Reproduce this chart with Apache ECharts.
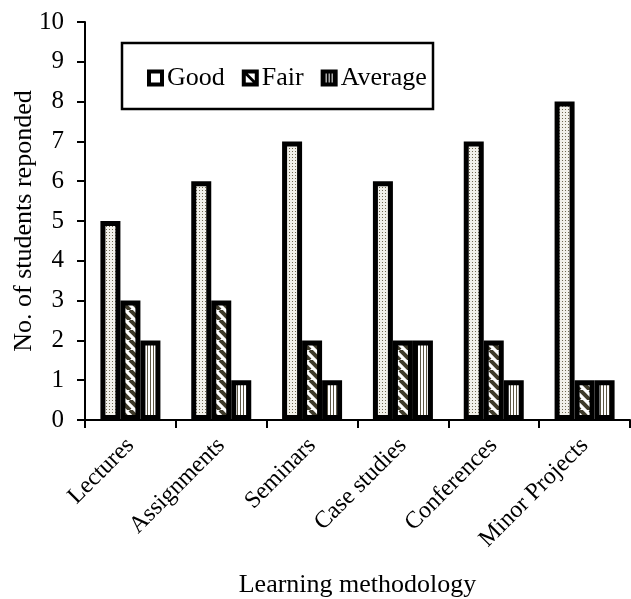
<!DOCTYPE html>
<html>
<head>
<meta charset="utf-8">
<script src="https://cdn.jsdelivr.net/npm/echarts@6/dist/echarts.min.js"></script>
<style>
html,body{margin:0;padding:0;background:#fff;}
#c{width:631px;height:599px;}
</style>
</head>
<body>
<div id="c"></div>
<script>
const categories = ['Lectures','Assignments','Seminars','Case studies','Conferences','Minor Projects'];
const seriesNames = ['Good','Fair','Average'];
const good = [5,6,7,6,7,8];
const fair = [3,3,2,2,2,1];
const average = [2,1,1,2,1,1];
const yTicks = [0,1,2,3,4,5,6,7,8,9,10];

function dotPattern(){
  const c=document.createElement('canvas'); c.width=3; c.height=3;
  const g=c.getContext('2d');
  g.fillStyle='#f1f0ea'; g.fillRect(0,0,3,3);
  g.fillStyle='#6f6952'; g.fillRect(1,1,1,1);
  return c;
}
function diagPattern(){
  const s=10;
  const c=document.createElement('canvas'); c.width=s; c.height=s;
  const g=c.getContext('2d');
  g.fillStyle='#ffffff'; g.fillRect(0,0,s,s);
  g.strokeStyle='#3e3a2a'; g.lineWidth=4;
  for(let k=-1;k<=1;k++){
    g.beginPath(); g.moveTo(k*s,0); g.lineTo(k*s+s,s); g.stroke();
  }
  return c;
}
function vertPattern(){
  const c=document.createElement('canvas'); c.width=3; c.height=3;
  const g=c.getContext('2d');
  g.fillStyle='#ffffff'; g.fillRect(0,0,3,3);
  g.fillStyle='#5c5744'; g.fillRect(0,0,1,3);
  return c;
}
const patterns=[dotPattern(),diagPattern(),vertPattern()];
const dataSets=[good,fair,average];
const legendIcons=[
  'path://M0,0L17,0L17,17L0,17Z M4,4L4,13L13,13L13,4Z',
  'path://M0,0L17,0L17,17L0,17Z M6,4L13,11L13,4Z M4,6L4,13L11,13Z',
  'path://M0,0L17,0L17,17L0,17Z M5,4L5,13L6,13L6,4Z M8,4L8,13L9,13L9,4Z M11,4L11,13L12,13L12,4Z'
];
const font='"Liberation Serif","Times New Roman",serif';

const chart=echarts.init(document.getElementById('c'));
chart.setOption({
  animation:false,
  backgroundColor:'#fff',
  textStyle:{fontFamily:font,color:'#000'},
  grid:{left:85,right:1,top:22,bottom:179,containLabel:false,outerBoundsMode:'none'},
  graphic:[{type:'rect',shape:{x:122,y:43,width:311,height:66},style:{fill:'#fff',stroke:'#000',lineWidth:2.5},z:5}],
  legend:{
    data:seriesNames.map((n,i)=>({name:n,icon:legendIcons[i]})),
    left:142,top:60,
    z:10,
    itemWidth:17,itemHeight:17,itemGap:17,
    textStyle:{fontFamily:font,fontSize:26,color:'#000',padding:[0,0,0,-2]},
    itemStyle:{color:'#000',borderWidth:0}
  },
  xAxis:{
    type:'category',data:categories,
    axisLine:{lineStyle:{color:'#000',width:2}},
    axisTick:{show:true,length:8,lineStyle:{color:'#000',width:2}},
    axisLabel:{rotate:45,fontFamily:font,fontSize:24,color:'#000',margin:22,interval:0},
    name:'Learning methodology',nameLocation:'middle',nameGap:152,
    nameTextStyle:{fontFamily:font,fontSize:26,color:'#000'}
  },
  yAxis:{
    type:'value',min:0,max:10,interval:1,
    splitLine:{show:false},
    axisLine:{show:true,lineStyle:{color:'#000',width:2}},
    axisTick:{show:true,length:8,lineStyle:{color:'#000',width:2}},
    axisLabel:{fontFamily:font,fontSize:25,color:'#000',margin:21,
      formatter:v=>yTicks.includes(v)?String(v):''},
    name:'No. of students reponded',nameLocation:'middle',nameGap:48,nameMoveOverlap:false,
    nameTextStyle:{fontFamily:font,fontSize:26,color:'#000'}
  },
  series:seriesNames.map((n,i)=>({
    name:n,type:'bar',data:dataSets[i],
    barGap:'0%',barWidth:20,
    itemStyle:{color:{image:patterns[i],repeat:'repeat'},borderColor:'#000',borderWidth:5,borderRadius:0}
  }))
});
</script>
</body>
</html>
